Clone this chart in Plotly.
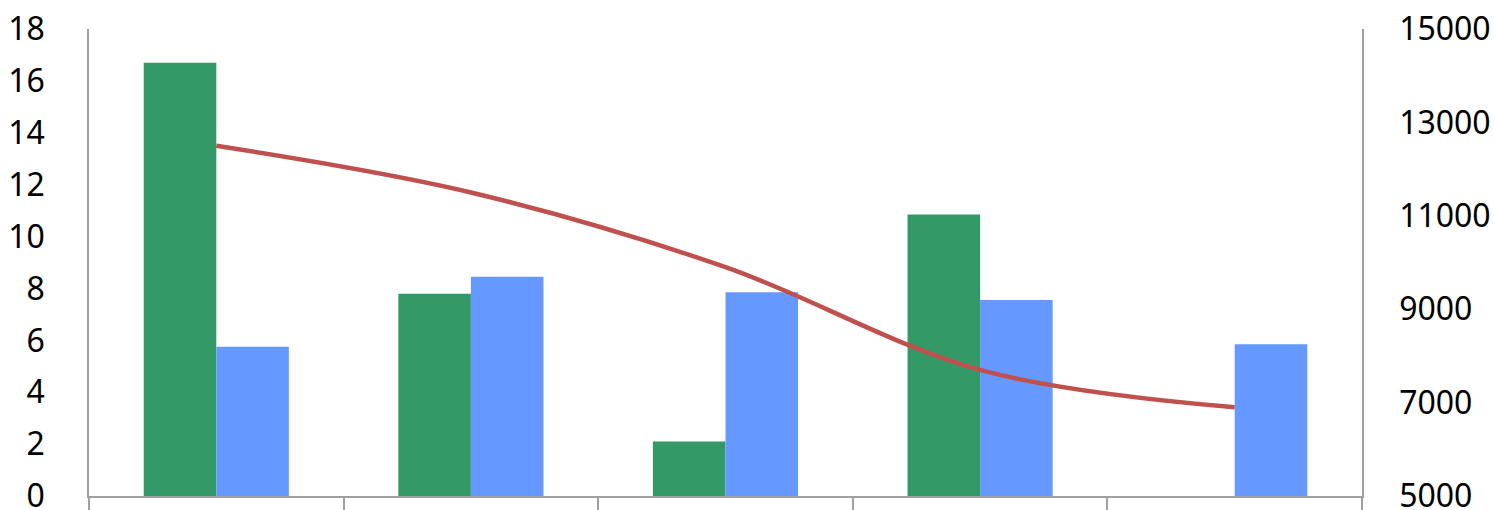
import plotly.graph_objects as go

categories = ["A", "B", "C", "D", "E"]
green_values = [16.7, 7.8, 2.1, 10.85, None]
blue_values = [5.75, 8.45, 7.85, 7.55, 5.85]
line_values = [12500, 11500, 9900, 7700, 6900]

left_ticks = list(range(0, 19, 2))
right_ticks = list(range(5000, 15001, 2000))

GREEN = "#339966"
BLUE = "#6699FF"
RED = "#C0504D"
AXIS = "#A0A0A0"
FONT = "Noto Sans"

fig = go.Figure()
fig.add_trace(go.Bar(x=categories, y=green_values, marker=dict(color=GREEN, line=dict(width=0)),
                     name="g", yaxis="y"))
fig.add_trace(go.Bar(x=categories, y=blue_values, marker=dict(color=BLUE, line=dict(width=0)),
                     name="b", yaxis="y"))
fig.add_trace(go.Scatter(x=categories, y=line_values, mode="lines",
                         line=dict(color=RED, width=4.5, shape="spline", smoothing=1.0),
                         name="r", yaxis="y2"))

fig.update_layout(
    width=1494, height=510,
    margin=dict(l=89, r=132, t=29, b=14, autoexpand=False),
    paper_bgcolor="white", plot_bgcolor="white",
    showlegend=False,
    barmode="group", bargap=0.43, bargroupgap=0,
    font=dict(family=FONT, size=32, color="#000000"),
    xaxis=dict(
        type="category", showticklabels=False, showgrid=False, zeroline=False,
        showline=True, linecolor=AXIS, linewidth=2, automargin=False,
        ticks="outside", tickson="boundaries", ticklen=13, tickcolor=AXIS, tickwidth=1.5,
    ),
    yaxis=dict(
        range=[0, 18], tickvals=left_ticks, ticktext=[str(v) for v in left_ticks],
        showgrid=False, zeroline=False, showline=True, linecolor=AXIS, linewidth=1.5,
        ticks="", ticklabelstandoff=36, automargin=False, ticklabeloverflow="allow",
    ),
    yaxis2=dict(
        range=[5000, 15000], tickvals=right_ticks, ticktext=[str(v) for v in right_ticks],
        overlaying="y", side="right", automargin=False, ticklabeloverflow="allow",
        showgrid=False, zeroline=False, showline=True, linecolor=AXIS, linewidth=1.5,
        ticks="", ticklabelstandoff=29,
    ),
)

fig.write_html("out.html", config={"displayModeBar": False},
               post_script="document.body.style.margin='0';document.body.style.overflow='hidden';")
